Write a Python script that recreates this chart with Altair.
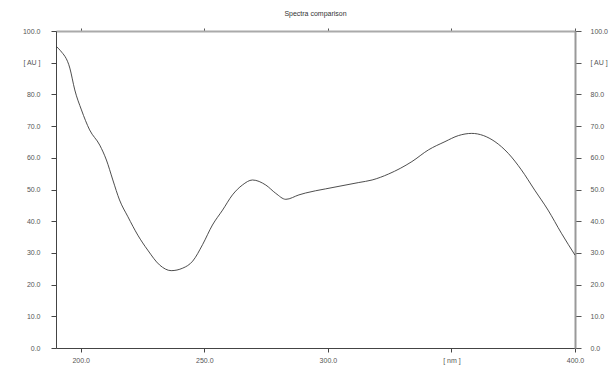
import altair as alt
import pandas as pd

# Spectrum
wavelength_nm = [190, 191.8, 195.6, 197.6, 200.3, 203.6, 207.7, 210.4, 213.0, 215.7, 219.1,
                 223.1, 227.1, 231.9, 236.6, 241.3, 245.3, 249.3, 253.3, 257.4, 261.4,
                 265.4, 269.5, 274.9, 278.9, 283.0, 288.3, 291.0, 299.1, 312.5, 317.9,
                 324.6, 334.0, 340.7, 347.4, 352.8, 358.2, 367.6, 373.0, 378.3, 383.7,
                 389.1, 394.5, 400.0]
absorbance_au = [95.2, 93.8, 88.3, 81.4, 75.1, 68.8, 64.0, 59.3, 53.0, 46.7, 41.4,
                 35.6, 30.9, 26.2, 24.4, 25.2, 27.4, 32.6, 38.8, 43.5, 48.3,
                 51.4, 53.0, 51.4, 48.8, 46.9, 48.3, 48.9, 50.2, 52.2, 53.0,
                 54.9, 58.8, 62.5, 65.1, 67.0, 67.7, 65.1, 61.4, 56.2, 49.8,
                 43.5, 36.2, 29.3]

x_ticks = [200, 250, 300, 350, 400]
y_ticks = [0, 10, 20, 30, 40, 50, 60, 70, 80, 90, 100]
x_unit_label = "[ nm ]"
y_unit_label = "[ AU ]"
title_text = "Spectra comparison"

df = pd.DataFrame({"nm": wavelength_nm, "au": absorbance_au})

FONT = "Liberation Sans"
x_scale = alt.Scale(domain=[190, 400], nice=False, zero=False)
y_scale = alt.Scale(domain=[0, 100], nice=False, zero=False)

x_label_expr = f"datum.value == 350 ? '{x_unit_label}' : format(datum.value, '.1f')"
y_label_expr = f"datum.value == 90 ? '{y_unit_label}' : format(datum.value, '.1f')"

main = alt.Chart(df).mark_line(color="#3a3a3a", strokeWidth=0.9, interpolate="monotone").encode(
    x=alt.X("nm:Q", scale=x_scale, title=None,
            axis=alt.Axis(orient="bottom", values=x_ticks, labelExpr=x_label_expr,
                          tickSize=4, labelPadding=4, domainColor="#444444", tickColor="#444444",
                          labelFont=FONT, labelFontSize=7, labelColor="#555555", grid=False,
                          labelFlush=False)),
    y=alt.Y("au:Q", scale=y_scale, title=None,
            axis=alt.Axis(orient="left", values=y_ticks, labelExpr=y_label_expr,
                          tickSize=5, labelPadding=11, domainColor="#444444", tickColor="#444444",
                          labelFont=FONT, labelFontSize=7, labelColor="#555555", grid=False,
                          labelFlush=False)),
)

frame = alt.Chart(df).mark_line(strokeOpacity=0).encode(
    x=alt.X("nm:Q", scale=x_scale, title=None,
            axis=alt.Axis(orient="top", values=x_ticks, labels=False, tickSize=3,
                          domainColor="#aaaaaa", domainWidth=2, tickColor="#555555", grid=False)),
    y=alt.Y("au:Q", scale=y_scale, title=None,
            axis=alt.Axis(orient="right", values=y_ticks, labelExpr=y_label_expr,
                          tickSize=6, labelPadding=9, domainColor="#999999", domainWidth=2,
                          tickColor="#555555", labelFont=FONT, labelFontSize=7,
                          labelColor="#555555", grid=False, labelFlush=False)),
)

chart = alt.layer(main, frame).resolve_axis(x="independent", y="independent").properties(
    width=519,
    height=317,
    autosize=alt.AutoSizeParams(type="none"),
    padding={"left": 56, "top": 31, "right": 39, "bottom": 17},
    title=alt.TitleParams(title_text, fontSize=7, font=FONT, fontWeight="normal",
                          color="#333333", anchor="middle", offset=10),
).configure_view(stroke=None).configure(background="white")

chart.save("out.html", embed_options={"renderer": "svg", "actions": False})
